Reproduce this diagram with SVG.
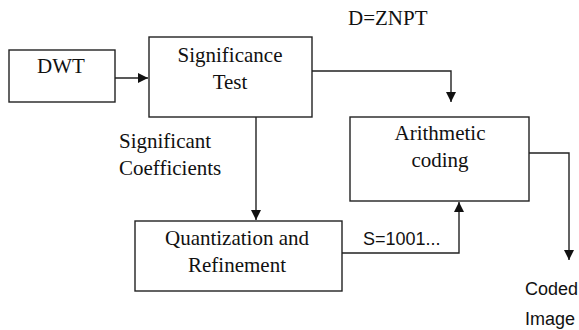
<svg xmlns="http://www.w3.org/2000/svg" width="579" height="330" viewBox="0 0 579 330">
<style>
.box{fill:#fff;stroke:#222;stroke-width:1.4}
.serif{font-family:'Liberation Serif','DejaVu Serif','Times New Roman',Times,serif;font-size:21px;fill:#111}
.sans{font-family:'Liberation Sans','DejaVu Sans',Arial,sans-serif;font-size:18px;fill:#111}
.conn{fill:none;stroke:#222;stroke-width:1.4}
</style>
<defs>
<marker id="arr" viewBox="0 0 10 10" refX="10" refY="5" markerWidth="10" markerHeight="10" markerUnits="userSpaceOnUse" orient="auto">
<path d="M0,0 L10,5 L0,10 Z" fill="#111"/>
</marker>
</defs>
<rect width="579" height="330" fill="#fff"/>
<g id="connectors">
<line class="conn" x1="115" y1="78" x2="148" y2="78" marker-end="url(#arr)"/>
<polyline class="conn" points="312,71 451,71 451,102" marker-end="url(#arr)"/>
<line class="conn" x1="256" y1="117" x2="256" y2="220" marker-end="url(#arr)"/>
<polyline class="conn" points="342,253 459,253 459,202" marker-end="url(#arr)"/>
<polyline class="conn" points="529,153 569,153 569,260" marker-end="url(#arr)"/>
</g>
<g id="dwt">
<rect class="box" x="9" y="50" width="106" height="52"/>
<text class="serif" font-family="Liberation Serif, serif" x="61" y="73" text-anchor="middle">DWT</text>
</g>
<g id="significance">
<rect class="box" x="149" y="37" width="163" height="80"/>
<text class="serif" x="230" y="62" text-anchor="middle">Significance</text>
<text class="serif" x="230" y="89" text-anchor="middle">Test</text>
</g>
<g id="arithmetic">
<rect class="box" x="350" y="117" width="179" height="84"/>
<text class="serif" x="440" y="140" text-anchor="middle">Arithmetic</text>
<text class="serif" x="440" y="167" text-anchor="middle">coding</text>
</g>
<g id="quantization">
<rect class="box" x="135" y="221" width="207" height="70"/>
<text class="serif" x="237" y="245" text-anchor="middle">Quantization and</text>
<text class="serif" x="237" y="272" text-anchor="middle">Refinement</text>
</g>
<g id="labels">
<text class="serif" x="348" y="25">D=ZNPT</text>
<text class="serif" x="119" y="148">Significant</text>
<text class="serif" x="119" y="175">Coefficients</text>
<text class="sans" x="363" y="245">S=1001...</text>
<text class="sans" x="525" y="295">Coded</text>
<text class="sans" x="525" y="325">Image</text>
</g>
</svg>
